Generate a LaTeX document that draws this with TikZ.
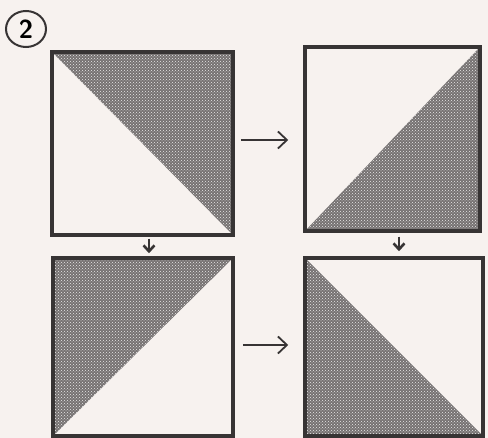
\documentclass[tikz,border=0pt]{standalone}
\usetikzlibrary{arrows.meta,patterns,shapes.geometric}
\definecolor{paper}{RGB}{247,242,239}
\definecolor{ink}{RGB}{55,52,52}
\definecolor{grain}{RGB}{118,114,114}

\begin{document}
\begin{tikzpicture}[
  x=1pt, y=-1pt,
  square/.style={draw=ink, line width=3.5pt, inner sep=0pt},
  grainy/.style={fill=grain, postaction={pattern=crosshatch dots, pattern color=white!85!grain}},
  shadeNE/.style={path picture={\path[grainy] (path picture bounding box.north west) -- (path picture bounding box.north east) -- (path picture bounding box.south east) -- cycle;}},
  shadeSE/.style={path picture={\path[grainy] (path picture bounding box.south west) -- (path picture bounding box.north east) -- (path picture bounding box.south east) -- cycle;}},
  shadeNW/.style={path picture={\path[grainy] (path picture bounding box.north west) -- (path picture bounding box.north east) -- (path picture bounding box.south west) -- cycle;}},
  shadeSW/.style={path picture={\path[grainy] (path picture bounding box.north west) -- (path picture bounding box.south east) -- (path picture bounding box.south west) -- cycle;}},
  turn/.style={draw=ink, line width=1.8pt, -{Straight Barb[length=9pt, width=17pt, line width=1.8pt]}},
  drop/.style={draw=ink, line width=2.6pt, -{Straight Barb[length=6pt, width=11pt, line width=2.6pt]}},
]
  % page
  \fill[paper] (0,0) rectangle (488,438);
  \useasboundingbox (0,0) rectangle (488,438);

  % step number
  \node[draw=ink, ellipse, line width=2pt, minimum width=40pt, minimum height=36pt, inner sep=0pt,
        font=\fontsize{26}{26}\selectfont\bfseries\sffamily] (num) at (26,29) {2};

  % the four blocks
  \node[square, shadeNE, minimum width=181pt, minimum height=183pt] (tl) at (142.5,143.5) {};
  \node[square, shadeSE, minimum width=175pt, minimum height=184pt] (tr) at (392.5,139) {};
  \node[square, shadeNW, minimum width=180pt, minimum height=178pt] (bl) at (143,347) {};
  \node[square, shadeSW, minimum width=178pt, minimum height=178pt] (br) at (394,347) {};

  % turns
  \draw[turn, shorten <=6pt, shorten >=15pt] ([yshift=3.5pt]tl.east) -- ([yshift=3.5pt]tl.east -| tr.west);
  \draw[turn, shorten <=8pt, shorten >=15pt] ([yshift=2pt]bl.east) -- ([yshift=2pt]bl.east -| br.west);
  \draw[drop, shorten <=2pt, shorten >=3pt] ([xshift=6.5pt]tl.south) -- ([xshift=6.5pt]tl.south |- bl.north);
  \draw[drop, shorten <=4pt, shorten >=5pt] ([xshift=6.5pt]tr.south) -- ([xshift=6.5pt]tr.south |- br.north);
\end{tikzpicture}
\end{document}
